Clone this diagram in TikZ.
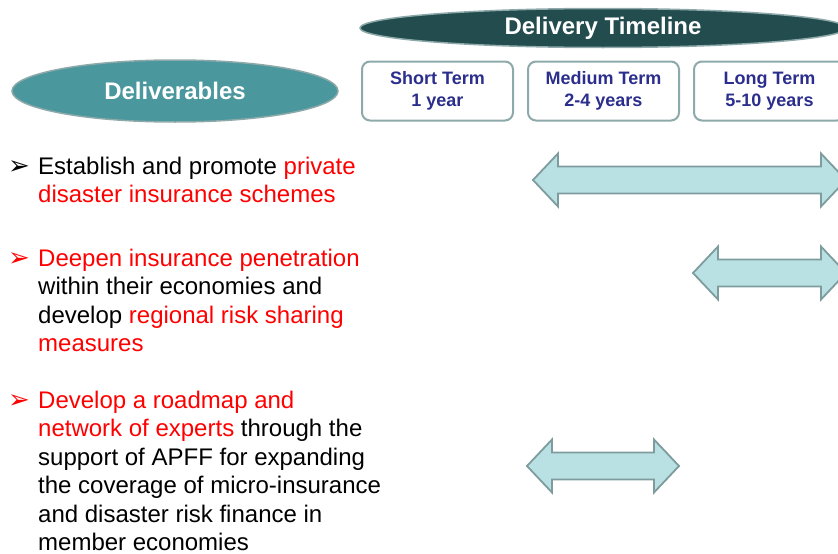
\documentclass[tikz,border=0pt]{standalone}
\usepackage{xcolor}
\usepackage{fontspec}
\setmainfont{Liberation Sans}
\newfontfamily\symfont{DejaVu Sans}
\usepackage{tikz}
\usetikzlibrary{shapes.geometric,positioning}

\definecolor{darkteal}{HTML}{234C4E}
\definecolor{midteal}{HTML}{4A979D}
\definecolor{rimgray}{HTML}{8EA9AA}
\definecolor{termblue}{HTML}{2B2E8C}
\definecolor{barfill}{HTML}{B9E0E3}
\definecolor{barline}{HTML}{7E9C9D}

\tikzset{
  headoval/.style={ellipse, draw=rimgray, line width=1.5pt, inner sep=0pt,
    text=white, font=\bfseries\fontsize{24}{28}\selectfont},
  termbox/.style={rectangle, rounded corners=8pt, draw=rimgray, line width=2pt,
    minimum width=151pt, minimum height=59pt, inner sep=0pt, align=center,
    text=termblue, font=\bfseries\fontsize{18}{22.5}\selectfont},
  itemtext/.style={anchor=base west, inner sep=0pt, align=left,
    font=\fontsize{24}{28.5}\selectfont},
  itembullet/.style={anchor=base west, inner sep=0pt, font=\symfont\fontsize{26}{28}\selectfont},
  spanarrow/.style={fill=barfill, draw=barline, line width=1.8pt, line join=miter}
}

\begin{document}
\begin{tikzpicture}[x=1pt, y=-1pt]
        \useasboundingbox (0,0) rectangle (838,554);

        % Headers
        \node[headoval, fill=darkteal, minimum width=486pt, minimum height=39pt] (timeline) at (603,28) {Delivery Timeline};
        \node[headoval, fill=midteal, minimum width=326pt, minimum height=62pt] (deliv) at (175,91) {Deliverables};

        % Term boxes
        \node[termbox] (short) at (437.5,91) {Short Term\\1 year};
        \node[termbox, right=13pt of short] (medium) {Medium Term\\2-4 years};
        \node[termbox, right=13pt of medium] (long) {Long Term\\5-10 years};

        % Deliverable items (base = last line)
        \node[itembullet] (b1) at (8,174) {➢};
        \node[itemtext] (item1) at (38,202.5) {Establish and promote \textcolor{red}{private}\\
          \textcolor{red}{disaster insurance schemes}};

        \node[itembullet, text=red] (b2) at (8,266) {➢};
        \node[itemtext] (item2) at (38,351.5) {\textcolor{red}{Deepen insurance penetration}\\
          within their economies and\\
          develop \textcolor{red}{regional risk sharing}\\
          \textcolor{red}{measures}};

        \node[itembullet, text=red] (b3) at (8,408) {➢};
        \node[itemtext] (item3) at (38,550.5) {\textcolor{red}{Develop a roadmap and}\\
          \textcolor{red}{network of experts} through the\\
          support of APFF for expanding\\
          the coverage of micro-insurance\\
          and disaster risk finance in\\
          member economies};

        % Timeline spans
        \foreach \l/\r/\y in {533/846/180, 693/846/273, 527/679/466}
          \filldraw[spanarrow] (\l,\y) -- (\l+25,\y-26.5) -- (\l+25,\y-13.5) -- (\r-25,\y-13.5)
            -- (\r-25,\y-26.5) -- (\r,\y) -- (\r-25,\y+26.5) -- (\r-25,\y+13.5)
            -- (\l+25,\y+13.5) -- (\l+25,\y+26.5) -- cycle;
      \end{tikzpicture}
\end{document}
